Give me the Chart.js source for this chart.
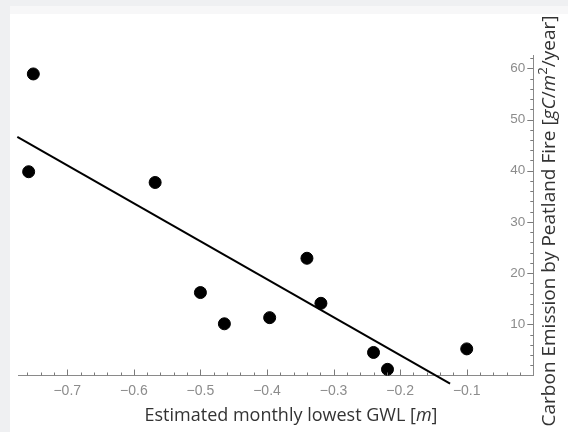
<!DOCTYPE html>
<html>
<head>
<meta charset="utf-8">
<script src="https://cdn.jsdelivr.net/npm/chart.js@4/dist/chart.umd.min.js"></script>
<style>
  html, body { margin: 0; padding: 0; background: #eff0f2; }
  #panel { position: absolute; left: 10px; top: 6px; width: 558px; height: 426px; background: #fff; border-top: 8px solid #f7f7f8; box-sizing: border-box; }
  #chart { position: absolute; left: 0; top: 0; }
</style>
</head>
<body>
<div id="panel"></div>
<canvas id="chart" width="568" height="432"></canvas>
<script>
// measured points: water level (m) vs carbon emission
var gwl      = [-0.751, -0.758, -0.568, -0.500, -0.464, -0.396, -0.340, -0.319, -0.240, -0.219, -0.100]
var emission = [58.9, 39.8, 37.7, 16.2, 10.1, 11.3, 22.9, 14.1, 4.5, 1.2, 5.2]

// fitted line end points
var fitX = [-0.775, -0.125]
var fitY = [46.6, -1.6]

var xTicks = [-0.7, -0.6, -0.5, -0.4, -0.3, -0.2, -0.1]
var yTicks = [10, 20, 30, 40, 50, 60]
var xMinorStep = 0.02
var yMinorStep = 2

var xTitle = [['Estimated monthly lowest GWL [', ''], ['m', 'i'], [']', '']]
var yTitle = [['Carbon Emission by Peatland Fire [', ''], ['gC', 'i'], ['/', ''], ['m', 'i'], ['2', 's'], ['/year]', '']]

var titleFont = '"Open Sans", "Noto Sans", sans-serif'

function fmt(v) {
    var s = Math.abs(v).toFixed(1)
    return v < 0 ? '\u2212' + s : s
}

function drawRich(ctx, parts, size) {
    // measure then draw left to right, centered on origin
    var w = 0
    parts.forEach(p => {
        ctx.font = (p[1] == 'i' ? 'italic ' : '') + (p[1] == 's' ? size * 0.7 : size) + 'px ' + titleFont
        p.w = ctx.measureText(p[0]).width
        w += p.w
    })
    var x = -w / 2
    parts.forEach(p => {
        ctx.font = (p[1] == 'i' ? 'italic ' : '') + (p[1] == 's' ? size * 0.7 : size) + 'px ' + titleFont
        ctx.fillText(p[0], x, p[1] == 's' ? -size * 0.4 : 0)
        x += p.w
    })
}

var decor = {
    id: 'decor',
    afterDraw(chart) {
        var ctx = chart.ctx, a = chart.chartArea
        var xs = chart.scales.x, ys = chart.scales.y
        ctx.save()
        ctx.strokeStyle = '#7a7a7a'
        ctx.lineWidth = 1
        ctx.beginPath()
        for (var i = Math.ceil(xs.min / xMinorStep); i * xMinorStep < xs.max - 1e-9; i++) {
            var px = Math.round(xs.getPixelForValue(i * xMinorStep)) + 0.5
            var len = (i % 5 == 0) ? 6 : 3
            ctx.moveTo(px, a.bottom)
            ctx.lineTo(px, a.bottom - len)
        }
        for (var j = 1; j * yMinorStep <= ys.max; j++) {
            var py = Math.round(ys.getPixelForValue(j * yMinorStep)) + 0.5
            var l = (j % 5 == 0) ? 6 : 3
            ctx.moveTo(a.right, py)
            ctx.lineTo(a.right - l, py)
        }
        ctx.stroke()

        ctx.fillStyle = '#333'
        ctx.textBaseline = 'alphabetic'
        ctx.translate(291, 421)
        drawRich(ctx, xTitle, 18)
        ctx.restore()

        ctx.save()
        ctx.fillStyle = '#333'
        ctx.translate(555, 221)
        ctx.rotate(-Math.PI / 2)
        drawRich(ctx, yTitle, 19)
        ctx.restore()
    }
}

var data = {
    datasets: [
        {
            type: 'scatter',
            data: gwl.map((v, i) => ({x: v, y: emission[i]})),
            backgroundColor: '#000',
            borderColor: '#000',
            pointRadius: 6,
            pointHoverRadius: 6,
            clip: false
        },
        {
            type: 'line',
            data: fitX.map((v, i) => ({x: v, y: fitY[i]})),
            borderColor: '#000',
            borderWidth: 2,
            pointRadius: 0,
            fill: false,
            clip: false
        }
    ]
}

var options = {
    type: 'scatter',
    data: data,
    plugins: [decor],
    options: {
        responsive: false,
        animation: false,
        layout: { padding: { left: 18, top: 55, right: 0, bottom: 0 } },
        scales: {
            x: {
                type: 'linear',
                min: -0.774,
                max: 0,
                afterFit: s => { s.height = 56.5 },
                afterBuildTicks: s => { s.ticks = xTicks.map(v => ({value: v})) },
                grid: { display: false, drawTicks: false },
                border: { display: true, color: '#8a8a8a', width: 1 },
                ticks: {
                    color: '#8c8c8c',
                    padding: 7,
                    maxRotation: 0,
                    font: { family: '"Liberation Sans", Arial, sans-serif', size: 14 },
                    callback: v => fmt(v)
                }
            },
            y: {
                type: 'linear',
                position: 'right',
                min: 0,
                max: 62.6,
                afterFit: s => { s.width = 34.7 },
                afterBuildTicks: s => { s.ticks = yTicks.map(v => ({value: v})) },
                grid: { display: false, drawTicks: false },
                border: { display: true, color: '#8a8a8a', width: 1 },
                ticks: {
                    mirror: true,
                    color: '#8c8c8c',
                    padding: -8,
                    font: { family: '"Liberation Sans", Arial, sans-serif', size: 13.5 },
                    callback: v => String(v)
                }
            }
        },
        plugins: {
            legend: { display: false },
            tooltip: { enabled: false },
            title: { display: false }
        }
    }
}

var ctx = document.getElementById('chart').getContext('2d')
var chart = new Chart(ctx, options)
</script>
</body>
</html>
